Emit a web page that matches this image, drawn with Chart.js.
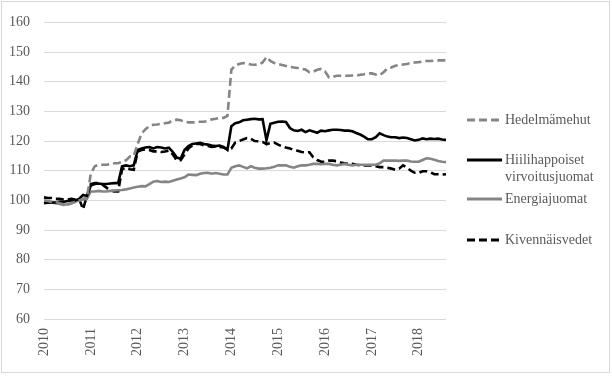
<!DOCTYPE html>
<html>
<head>
<meta charset="utf-8">
<script src="https://cdn.jsdelivr.net/npm/chart.js@4"></script>
<style>
  body { margin: 0; background: #fff; }
</style>
</head>
<body>
<canvas id="juomaChart" width="612" height="376"></canvas>
<script>
const years = [2010, 2011, 2012, 2013, 2014, 2015, 2016, 2017, 2018];
const lastMonth2018 = 8;

// indeksi, 2010 = 100, kuukausittain tammikuu 2010 - elokuu 2018
const hedelmamehut = [
  100, 99.8, 99.5, 99.5, 99, 98.7, 98.5, 99, 99.5, 100, 100.5, 101,
  109, 111.5, 112, 112, 112, 112.2, 112.5, 112.5, 113, 113.5, 114.8, 115,
  119, 122.5, 124, 125, 125.5, 125.6, 125.8, 126, 126.2, 127, 127.2, 127,
  126.5, 126.3, 126.3, 126.3, 126.5, 126.5, 126.8, 127.3, 127.5, 127.8, 127.8, 128.5,
  144, 145.5, 146, 146.3, 146.2, 145.8, 145.7, 145.8, 146.5, 148.3, 147, 146.3,
  146, 145.6, 145.3, 145, 144.8, 144.6, 144.3, 144.1, 143.2, 143.4, 144, 144.3,
  143.5, 141.5, 141.6, 142, 142, 142, 142, 142.1, 142.2, 142.3, 142.5, 142.8,
  142.8, 142.4, 142.2, 143.2, 144.5, 144.8, 145.4, 145.7, 145.8, 146, 146.3, 146.5,
  146.6, 146.8, 147, 147, 147.1, 147.2, 147.2, 147.2
];
const hiilihappoiset = [
  99, 99.2, 99.3, 99.3, 99.5, 99.5, 99.8, 100, 100, 100.5, 101.8, 101.5,
  105, 105.5, 105.7, 105.5, 105.5, 105.7, 105.8, 105.8, 111.5, 111.8, 111.5, 111.8,
  117, 117.5, 117.8, 118, 117.5, 118, 117.8, 117.5, 117.8, 116.3, 114.5, 114,
  117, 118.3, 119, 119.2, 119.4, 119, 118.8, 118.5, 118.3, 118.5, 118, 117,
  125, 126, 126.3, 127, 127.2, 127.4, 127.5, 127.3, 127.4, 120.3, 125.8, 126.2,
  126.5, 126.6, 126.4, 124.4, 123.6, 123.4, 123.8, 123, 123.6, 123.2, 122.8, 123.5,
  123.3, 123.6, 123.8, 123.8, 123.7, 123.5, 123.5, 123.3, 122.7, 122.2, 121.5, 120.6,
  120.6, 121.3, 122.6, 122, 121.5, 121.3, 121.3, 121, 121.2, 121, 120.6, 120.2,
  120.4, 120.9, 120.6, 120.8, 120.7, 120.8, 120.5, 120.4
];
const energiajuomat = [
  99.5, 99.3, 99.2, 99, 98.8, 98.5, 98.7, 99, 99.5, 100, 100.3, 100.5,
  103, 103, 103.2, 103, 103, 103.2, 103.3, 103.4, 103.5, 103.7, 104, 104.3,
  104.6, 104.8, 104.7, 105.5, 106.3, 106.5, 106.2, 106.3, 106.2, 106.6, 107, 107.4,
  107.8, 108.7, 108.6, 108.5, 109, 109.2, 109.3, 109, 109.2, 109, 108.7, 108.7,
  111, 111.5, 111.8, 111.3, 110.8, 111.5, 111, 110.7, 110.7, 110.8, 111, 111.3,
  111.8, 111.8, 111.8, 111.3, 111, 111.5, 111.8, 111.8, 112, 112.3, 112.3, 112.2,
  112.3, 112.3, 112, 111.8, 112, 112.3, 112, 111.8, 112, 112, 112, 112,
  112, 112, 112.5, 113.4, 113.4, 113.4, 113.4, 113.3, 113.4, 113.4, 113.1, 113,
  113, 113.6, 114.2, 114, 113.7, 113.3, 113, 112.9
];
const kivennaisvedet = [
  101, 100.8, 100.8, 100.5, 100.5, 100.3, 100.3, 100.5, 100.3, 100.5, 97, 101.5,
  105.5, 105.8, 105.8, 105.3, 104.3, 103.3, 103, 103, 110.5, 111, 110.5, 110.3,
  116.5, 117, 117.2, 117, 116.5, 116.5, 116.3, 116.5, 116.8, 115.5, 113.5, 113.5,
  115.5, 117.5, 118.5, 119, 119, 118.5, 118.3, 118, 118.2, 118, 117.8, 117.3,
  117.5, 119.5, 120, 120.5, 121, 120.8, 120, 119.9, 119.7, 119, 119.3, 119.5,
  118.8, 118.2, 117.8, 117.5, 117, 116.7, 116.3, 116.2, 116.2, 114.5, 113.6, 113,
  113, 113.4, 113.4, 113.2, 112.8, 112.5, 112.4, 112.3, 112, 111.8, 111.8, 111.8,
  111.8, 111.5, 111.2, 111.2, 111, 110.7, 110.3, 110.7, 111.8, 111, 110, 109.3,
  109.3, 109.8, 109.8, 109.5, 108.8, 108.8, 108.7, 108.8
];

const months = [];
years.forEach((y) => {
  const n = y === 2018 ? lastMonth2018 : 12;
  for (let m = 1; m <= n; m++) {
    months.push(`${y}-${m.toString().padStart(2, "0")}`);
  }
});

const GREY = "#858585";
const TEXT = "#595959";
const FONT = "'Liberation Serif', 'Times New Roman', serif";

const seriesList = [
  { label: ["Hedelmämehut"], data: hedelmamehut, color: GREY, dash: [8, 4], y: 120 },
  { label: ["Hiilihappoiset", "virvoitusjuomat"], data: hiilihappoiset, color: "#000", dash: [], y: 160 },
  { label: ["Energiajuomat"], data: energiajuomat, color: GREY, dash: [], y: 199 },
  { label: ["Kivennäisvedet"], data: kivennaisvedet, color: "#000", dash: [8, 4], y: 240 },
];

// oma selite oikealle, kuten alkuperäisessä
const sideLegend = {
  id: "sideLegend",
  afterDraw(chart) {
    const ctx = chart.ctx;
    ctx.save();
    ctx.strokeStyle = "#d9d9d9";
    ctx.lineWidth = 1;
    ctx.setLineDash([]);
    ctx.strokeRect(1.5, 1.5, 608, 371);

    ctx.font = `14px ${FONT}`;
    ctx.fillStyle = TEXT;
    ctx.textBaseline = "middle";
    ctx.textAlign = "left";
    seriesList.forEach((s) => {
      ctx.beginPath();
      ctx.strokeStyle = s.color;
      ctx.lineWidth = 3;
      ctx.setLineDash(s.dash);
      ctx.moveTo(467, s.y);
      ctx.lineTo(502, s.y);
      ctx.stroke();
      s.label.forEach((line, i) => {
        ctx.fillText(line, 505, s.y + i * 17);
      });
    });
    ctx.restore();
  },
  beforeDraw(chart) {
    const ctx = chart.ctx;
    ctx.save();
    ctx.fillStyle = "#fff";
    ctx.fillRect(0, 0, chart.width, chart.height);
    ctx.restore();
  },
};

const ctx = document.getElementById("juomaChart");
new Chart(ctx, {
  type: "line",
  data: {
    labels: months,
    datasets: seriesList.map((s) => ({
      label: s.label.join(" "),
      data: s.data,
      borderColor: s.color,
      borderDash: s.dash,
      borderWidth: 2.6,
      pointRadius: 0,
      tension: 0,
      fill: false,
    })),
  },
  options: {
    responsive: false,
    animation: false,
    layout: { padding: { top: 15, right: 166, left: 0, bottom: 0 } },
    plugins: {
      legend: { display: false },
      tooltip: { enabled: false },
    },
    scales: {
      x: {
        offset: false,
        grid: { display: false, drawTicks: false },
        border: { display: false },
        ticks: {
          autoSkip: false,
          minRotation: 90,
          maxRotation: 90,
          padding: 9,
          color: TEXT,
          font: { family: FONT, size: 14 },
          callback: function (value) {
            const lab = this.getLabelForValue(value);
            return lab.endsWith("-01") ? lab.slice(0, 4) : "";
          },
        },
        afterFit: (scale) => {
          scale.height = 57;
        },
      },
      y: {
        min: 60,
        max: 160,
        grid: { color: "#d9d9d9", lineWidth: 1, drawTicks: false },
        border: { display: false },
        ticks: {
          stepSize: 10,
          padding: 14,
          color: TEXT,
          font: { family: FONT, size: 14 },
        },
        afterFit: (scale) => {
          scale.width = 44;
        },
      },
    },
  },
  plugins: [sideLegend],
});
</script>
</body>
</html>
